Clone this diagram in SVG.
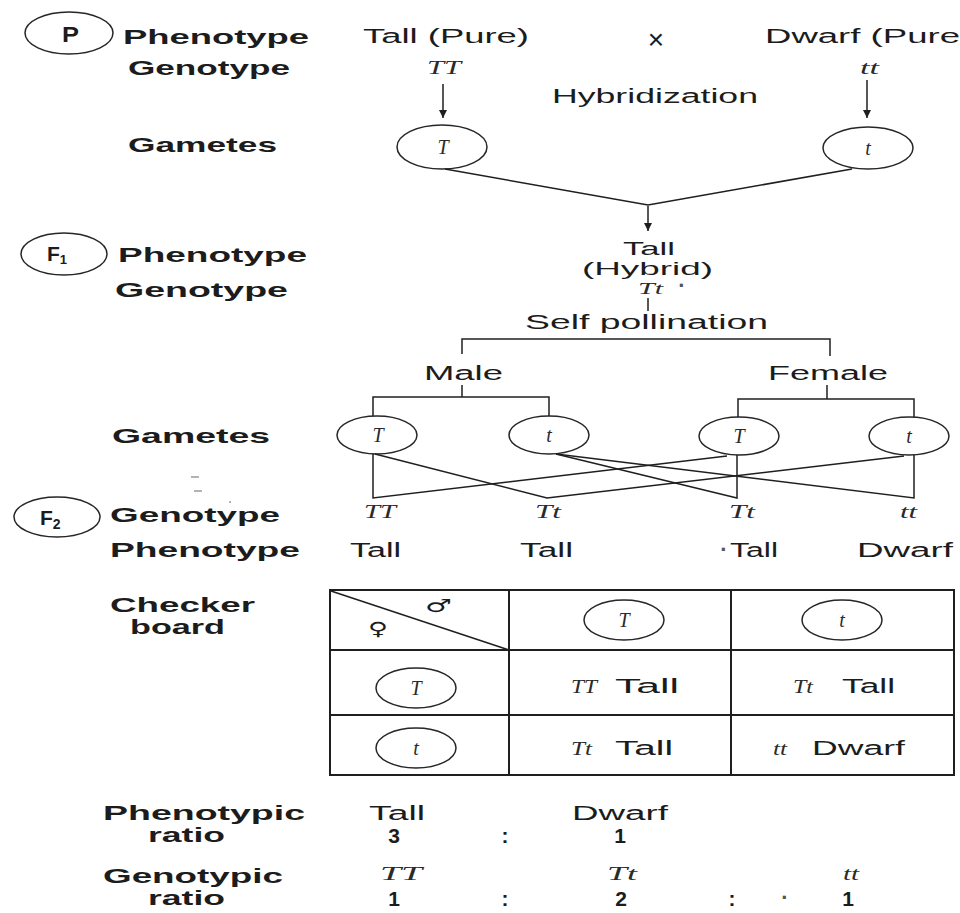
<svg xmlns="http://www.w3.org/2000/svg" width="960" height="913" viewBox="0 0 960 913">
  <style>
    .lbl { font-family: "Liberation Sans", Arial, sans-serif; font-weight: bold; font-size: 21px; fill: #1c1c1c; }
    .txt { font-family: "Liberation Sans", Arial, sans-serif; font-size: 20px; fill: #1c1c1c; }
    .gen { font-family: "Liberation Serif", "Times New Roman", serif; font-style: italic; font-size: 19px; fill: #2a2a2a; }
    .sym { font-family: "DejaVu Sans", sans-serif; font-size: 18px; fill: #1c1c1c; }
    .dot { font-family: "Liberation Sans", Arial, sans-serif; font-weight: bold; font-size: 22px; fill: #555555; }
    .ln { stroke: #1f1f1f; stroke-width: 1.5; fill: none; }
    .cell { stroke: #1f1f1f; stroke-width: 2; fill: none; }
    .ring { fill: none; stroke: #262626; stroke-width: 1.5; }
    .mark { stroke: #9a9a9a; stroke-width: 1.5; }
  </style>
  <defs>
    <marker id="arrowhead" viewBox="0 0 10 10" refX="10" refY="5" markerWidth="8" markerHeight="8" markerUnits="userSpaceOnUse" orient="auto">
      <path d="M0,0 L10,5 L0,10 z" fill="#1f1f1f"/>
    </marker>
  </defs>
  <rect width="960" height="913" fill="#ffffff"/>

  <!-- Parental generation -->
  <g id="gen-p">
    <ellipse class="ring" cx="69" cy="33" rx="44" ry="21"/>
    <text class="lbl" x="62" y="42" style="font-size:22px" textLength="17" lengthAdjust="spacingAndGlyphs">P</text>
    <text class="lbl" x="123" y="44" textLength="186" lengthAdjust="spacingAndGlyphs">Phenotype</text>
    <text class="lbl" x="128" y="75" textLength="162" lengthAdjust="spacingAndGlyphs">Genotype</text>
    <text class="lbl" x="128" y="152" textLength="149" lengthAdjust="spacingAndGlyphs">Gametes</text>
    <text class="txt" x="363" y="43" textLength="166" lengthAdjust="spacingAndGlyphs">Tall (Pure)</text>
    <text class="txt" x="656" y="49" text-anchor="middle" style="font-size:28px">×</text>
    <text class="txt" x="765" y="43" textLength="195" lengthAdjust="spacingAndGlyphs">Dwarf (Pure</text>
    <text class="gen" x="427" y="74" textLength="34" lengthAdjust="spacingAndGlyphs">TT</text>
    <text class="gen" x="860" y="74" textLength="19" lengthAdjust="spacingAndGlyphs">tt</text>
    <text class="txt" x="552" y="103" textLength="206" lengthAdjust="spacingAndGlyphs">Hybridization</text>
  </g>
  <g id="gamete-p-T">
    <ellipse class="ring" cx="442" cy="147" rx="45" ry="22"/>
    <text class="gen" x="443" y="154" text-anchor="middle" style="font-size:20px">T</text>
  </g>
  <g id="gamete-p-t">
    <ellipse class="ring" cx="868" cy="148" rx="45" ry="21"/>
    <text class="gen" x="868" y="155" text-anchor="middle" style="font-size:20px">t</text>
  </g>

  <!-- F1 generation -->
  <g id="gen-f1">
    <ellipse class="ring" cx="64" cy="254" rx="43" ry="21"/>
    <text class="lbl" x="47" y="261">F<tspan font-size="13" dy="3">1</tspan></text>
    <text class="lbl" x="118" y="262" textLength="189" lengthAdjust="spacingAndGlyphs">Phenotype</text>
    <text class="lbl" x="115" y="297" textLength="173" lengthAdjust="spacingAndGlyphs">Genotype</text>
    <text class="txt" x="623" y="255" style="font-size:18px" textLength="52" lengthAdjust="spacingAndGlyphs">Tall</text>
    <text class="txt" x="582" y="275" style="font-size:18px" textLength="131" lengthAdjust="spacingAndGlyphs">(Hybrid)</text>
    <text class="gen" x="638" y="294" style="font-size:16px" textLength="25" lengthAdjust="spacingAndGlyphs">Tt</text>
    <text class="dot" x="682" y="293" text-anchor="middle">·</text>
    <text class="txt" x="525" y="329" textLength="243" lengthAdjust="spacingAndGlyphs">Self pollination</text>
    <text class="txt" x="424" y="380" textLength="79" lengthAdjust="spacingAndGlyphs">Male</text>
    <text class="txt" x="768" y="380" textLength="120" lengthAdjust="spacingAndGlyphs">Female</text>
  </g>

  <!-- F1 gametes -->
  <g id="gametes-f1">
    <text class="lbl" x="112" y="443" textLength="158" lengthAdjust="spacingAndGlyphs">Gametes</text>
  </g>
  <g id="male-T">
    <ellipse class="ring" cx="377" cy="435" rx="40" ry="19"/>
    <text class="gen" x="378" y="442" text-anchor="middle" style="font-size:20px">T</text>
  </g>
  <g id="male-t">
    <ellipse class="ring" cx="549" cy="435" rx="40" ry="19"/>
    <text class="gen" x="549" y="442" text-anchor="middle" style="font-size:20px">t</text>
  </g>
  <g id="female-T">
    <ellipse class="ring" cx="739" cy="436" rx="40" ry="19"/>
    <text class="gen" x="739" y="443" text-anchor="middle" style="font-size:20px">T</text>
  </g>
  <g id="female-t">
    <ellipse class="ring" cx="909" cy="436" rx="40" ry="19"/>
    <text class="gen" x="909" y="443" text-anchor="middle" style="font-size:20px">t</text>
  </g>

  <!-- F2 generation -->
  <g id="gen-f2">
    <ellipse class="ring" cx="57" cy="517" rx="43" ry="20"/>
    <text class="lbl" x="40" y="525">F<tspan font-size="14" dy="4">2</tspan></text>
    <text class="lbl" x="110" y="522" textLength="170" lengthAdjust="spacingAndGlyphs">Genotype</text>
    <text class="lbl" x="110" y="557" textLength="190" lengthAdjust="spacingAndGlyphs">Phenotype</text>
    <text class="gen" x="364" y="518" textLength="32" lengthAdjust="spacingAndGlyphs">TT</text>
    <text class="gen" x="535" y="518" textLength="26" lengthAdjust="spacingAndGlyphs">Tt</text>
    <text class="gen" x="729" y="518" textLength="26" lengthAdjust="spacingAndGlyphs">Tt</text>
    <text class="gen" x="900" y="518" textLength="17" lengthAdjust="spacingAndGlyphs">tt</text>
    <text class="txt" x="350" y="557" textLength="51" lengthAdjust="spacingAndGlyphs">Tall</text>
    <text class="txt" x="520" y="557" textLength="53" lengthAdjust="spacingAndGlyphs">Tall</text>
    <text class="dot" x="724" y="557" text-anchor="middle">·</text>
    <text class="txt" x="730" y="557" textLength="48" lengthAdjust="spacingAndGlyphs">Tall</text>
    <text class="txt" x="857" y="557" textLength="96" lengthAdjust="spacingAndGlyphs">Dwarf</text>
  </g>
  <g id="stray-marks">
    <line class="mark" x1="191" y1="477" x2="199" y2="477"/>
    <line class="mark" x1="194" y1="491" x2="202" y2="491"/>
    <line class="mark" x1="229" y1="502" x2="231" y2="502"/>
  </g>

  <!-- Connectors -->
  <g id="connectors">
    <line class="ln" x1="443" y1="84" x2="443" y2="118" marker-end="url(#arrowhead)"/>
    <line class="ln" x1="867" y1="80" x2="867" y2="118" marker-end="url(#arrowhead)"/>
    <polyline class="ln" points="445,169 648,205 852,169"/>
    <line class="ln" x1="648" y1="206" x2="648" y2="231" marker-end="url(#arrowhead)"/>
    <line class="ln" x1="648" y1="298" x2="648" y2="311"/>
    <polyline class="ln" points="462,354 462,339 830,339 830,356"/>
    <line class="ln" x1="462" y1="385" x2="462" y2="397"/>
    <polyline class="ln" points="373,416 373,397 549,397 549,416"/>
    <line class="ln" x1="827" y1="385" x2="827" y2="399"/>
    <polyline class="ln" points="738,417 738,399 914,399 914,417"/>
    <!-- crosses between male and female gametes -->
    <polyline class="ln" points="373,454 373,498 727,456"/>
    <polyline class="ln" points="375,454 547,498 904,456"/>
    <polyline class="ln" points="556,454 737,498 737,455"/>
    <polyline class="ln" points="556,454 914,498 914,455"/>
  </g>

  <!-- Checkerboard -->
  <g id="checkerboard">
    <text class="lbl" x="110" y="612" textLength="145" lengthAdjust="spacingAndGlyphs">Checker</text>
    <text class="lbl" x="130" y="634" textLength="95" lengthAdjust="spacingAndGlyphs">board</text>
    <rect class="cell" x="330" y="590" width="624" height="185"/>
    <line class="cell" x1="509" y1="590" x2="509" y2="775"/>
    <line class="cell" x1="731" y1="590" x2="731" y2="775"/>
    <line class="cell" x1="330" y1="650" x2="954" y2="650"/>
    <line class="cell" x1="330" y1="715" x2="954" y2="715"/>
    <line class="ln" x1="331" y1="591" x2="509" y2="650"/>
    <text class="sym" x="425" y="612" textLength="27" lengthAdjust="spacingAndGlyphs">♂</text>
    <text class="sym" x="368" y="635" textLength="20" lengthAdjust="spacingAndGlyphs">♀</text>
    <ellipse class="ring" cx="624" cy="620" rx="40" ry="20"/>
    <text class="gen" x="624" y="627" text-anchor="middle" style="font-size:20px">T</text>
    <ellipse class="ring" cx="842" cy="620" rx="40" ry="20"/>
    <text class="gen" x="842" y="627" text-anchor="middle" style="font-size:20px">t</text>
    <ellipse class="ring" cx="416" cy="688" rx="40" ry="20"/>
    <text class="gen" x="416" y="695" text-anchor="middle" style="font-size:20px">T</text>
    <ellipse class="ring" cx="416" cy="748" rx="40" ry="20"/>
    <text class="gen" x="416" y="755" text-anchor="middle" style="font-size:20px">t</text>
    <text class="gen" x="571" y="693" textLength="26" lengthAdjust="spacingAndGlyphs">TT</text>
    <text class="txt" x="615" y="693" textLength="64" lengthAdjust="spacingAndGlyphs">Tall</text>
    <text class="gen" x="793" y="693" textLength="20" lengthAdjust="spacingAndGlyphs">Tt</text>
    <text class="txt" x="842" y="693" textLength="53" lengthAdjust="spacingAndGlyphs">Tall</text>
    <text class="gen" x="571" y="755" textLength="21" lengthAdjust="spacingAndGlyphs">Tt</text>
    <text class="txt" x="615" y="755" textLength="58" lengthAdjust="spacingAndGlyphs">Tall</text>
    <text class="gen" x="773" y="755" textLength="14" lengthAdjust="spacingAndGlyphs">tt</text>
    <text class="txt" x="812" y="755" textLength="93" lengthAdjust="spacingAndGlyphs">Dwarf</text>
  </g>

  <!-- Ratios -->
  <g id="phenotypic-ratio">
    <text class="lbl" x="103" y="820" textLength="202" lengthAdjust="spacingAndGlyphs">Phenotypic</text>
    <text class="lbl" x="148" y="842" textLength="77" lengthAdjust="spacingAndGlyphs">ratio</text>
    <text class="txt" x="369" y="820" textLength="56" lengthAdjust="spacingAndGlyphs">Tall</text>
    <text class="txt" x="572" y="820" textLength="96" lengthAdjust="spacingAndGlyphs">Dwarf</text>
    <text class="lbl" x="394" y="843" text-anchor="middle">3</text>
    <text class="lbl" x="505" y="843" text-anchor="middle">:</text>
    <text class="lbl" x="620" y="843" text-anchor="middle">1</text>
  </g>
  <g id="genotypic-ratio">
    <text class="lbl" x="103" y="883" textLength="180" lengthAdjust="spacingAndGlyphs">Genotypic</text>
    <text class="lbl" x="148" y="905" textLength="77" lengthAdjust="spacingAndGlyphs">ratio</text>
    <text class="gen" x="380" y="880" textLength="42" lengthAdjust="spacingAndGlyphs">TT</text>
    <text class="gen" x="607" y="880" textLength="30" lengthAdjust="spacingAndGlyphs">Tt</text>
    <text class="gen" x="843" y="880" textLength="16" lengthAdjust="spacingAndGlyphs">tt</text>
    <text class="lbl" x="394" y="906" text-anchor="middle">1</text>
    <text class="lbl" x="505" y="906" text-anchor="middle">:</text>
    <text class="lbl" x="621" y="906" text-anchor="middle">2</text>
    <text class="lbl" x="732" y="906" text-anchor="middle">:</text>
    <text class="dot" x="785" y="905" text-anchor="middle">·</text>
    <text class="lbl" x="848" y="906" text-anchor="middle">1</text>
  </g>
</svg>
